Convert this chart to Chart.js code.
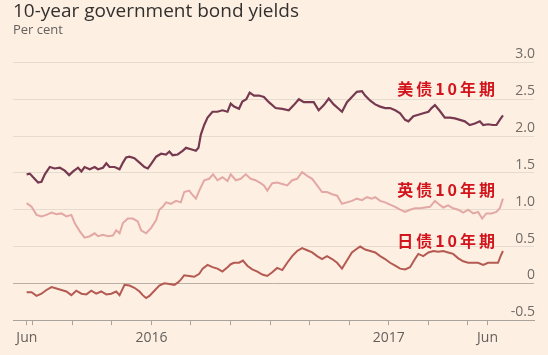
<!DOCTYPE html>
<html><head><meta charset="utf-8">
<script src="https://cdn.jsdelivr.net/npm/chart.js"></script>
<style>
html,body{margin:0;padding:0;background:#fdf0e3;}
#wrap{width:548px;height:355px;position:relative;}
</style></head>
<body><div id="wrap"><canvas id="c"></canvas></div>
<script>
// x values: months since 1 Jan 2016
const usX = [-6.31,-6.15,-5.98,-5.73,-5.56,-5.39,-5.14,-4.89,-4.63,-4.38,-4.16,-3.96,-3.71,-3.54,-3.38,-3.12,-2.87,-2.70,-2.45,-2.28,-2.12,-1.86,-1.61,-1.44,-1.28,-1.11,-0.86,-0.60,-0.35,-0.18,-0.02,0.24,0.49,0.74,0.91,1.07,1.33,1.58,1.75,2.00,2.25,2.38,2.50,2.67,2.84,3.09,3.34,3.59,3.85,4.01,4.18,4.43,4.60,4.80,4.97,5.19,5.44,5.69,5.94,6.28,6.62,6.95,7.20,7.46,7.71,7.96,8.21,8.46,8.72,8.97,9.22,9.47,9.64,9.89,10.14,10.39,10.65,10.81,11.07,11.32,11.57,11.82,12.07,12.33,12.58,12.83,13.00,13.25,13.50,13.75,14.01,14.17,14.34,14.59,14.84,15.10,15.35,15.60,15.85,16.10,16.36,16.61,16.78,17.03,17.28,17.45,17.62,17.78];
const usY = [1.48,1.49,1.44,1.37,1.38,1.48,1.58,1.56,1.57,1.53,1.47,1.52,1.57,1.52,1.58,1.55,1.58,1.55,1.57,1.63,1.58,1.58,1.55,1.64,1.71,1.72,1.70,1.64,1.58,1.56,1.62,1.72,1.76,1.75,1.79,1.74,1.75,1.80,1.84,1.82,1.80,1.84,2.02,2.15,2.25,2.33,2.33,2.35,2.33,2.44,2.40,2.37,2.47,2.50,2.59,2.55,2.55,2.53,2.46,2.38,2.37,2.35,2.42,2.50,2.46,2.46,2.46,2.35,2.42,2.51,2.43,2.37,2.33,2.46,2.53,2.60,2.61,2.55,2.48,2.43,2.40,2.38,2.38,2.35,2.31,2.22,2.20,2.27,2.29,2.31,2.33,2.38,2.42,2.34,2.25,2.25,2.24,2.22,2.20,2.15,2.17,2.20,2.15,2.16,2.15,2.15,2.22,2.28];

const ukX = [-6.31,-6.06,-5.81,-5.56,-5.31,-5.05,-4.80,-4.55,-4.30,-4.05,-3.88,-3.63,-3.38,-3.12,-2.87,-2.70,-2.45,-2.20,-1.95,-1.78,-1.61,-1.44,-1.19,-0.94,-0.69,-0.52,-0.27,-0.02,0.24,0.40,0.57,0.74,0.99,1.24,1.49,1.66,1.91,2.08,2.25,2.42,2.67,2.92,3.12,3.34,3.59,3.85,4.01,4.27,4.52,4.77,5.02,5.27,5.52,5.69,5.86,6.11,6.36,6.62,6.87,7.12,7.37,7.62,7.88,8.13,8.38,8.63,8.88,9.14,9.39,9.64,9.89,10.14,10.39,10.65,10.90,11.15,11.32,11.57,11.82,12.07,12.33,12.58,12.83,13.08,13.33,13.59,13.84,14.09,14.34,14.51,14.76,15.01,15.26,15.52,15.77,16.02,16.27,16.52,16.73,16.94,17.20,17.45,17.62,17.78];
const ukY = [1.09,1.04,0.93,0.91,0.93,0.96,0.94,0.95,0.91,0.93,0.82,0.71,0.62,0.64,0.68,0.64,0.66,0.64,0.65,0.72,0.68,0.82,0.88,0.88,0.84,0.72,0.68,0.75,0.86,1.00,1.04,1.10,1.08,1.12,1.10,1.24,1.26,1.20,1.15,1.26,1.40,1.42,1.48,1.40,1.44,1.39,1.48,1.40,1.42,1.48,1.42,1.40,1.36,1.33,1.26,1.36,1.37,1.35,1.33,1.40,1.42,1.51,1.46,1.42,1.33,1.24,1.24,1.21,1.19,1.08,1.10,1.12,1.15,1.13,1.17,1.15,1.17,1.12,1.10,1.07,1.04,1.00,0.97,1.00,1.02,1.02,1.03,1.04,1.12,1.08,1.03,1.06,1.02,1.00,0.96,1.00,0.95,0.97,0.88,0.95,0.95,0.97,1.02,1.15];

const jpX = [-6.31,-6.06,-5.81,-5.56,-5.31,-5.05,-4.80,-4.55,-4.30,-4.05,-3.80,-3.54,-3.29,-3.04,-2.79,-2.54,-2.28,-2.03,-1.78,-1.61,-1.36,-1.11,-0.86,-0.60,-0.44,-0.27,-0.10,0.15,0.40,0.65,0.91,1.16,1.33,1.49,1.66,1.91,2.17,2.42,2.59,2.84,3.09,3.34,3.59,3.85,4.01,4.18,4.43,4.63,4.85,5.10,5.36,5.61,5.86,6.11,6.36,6.62,6.87,7.12,7.37,7.62,7.88,8.13,8.38,8.63,8.88,9.14,9.39,9.64,9.89,10.14,10.39,10.56,10.81,11.07,11.32,11.57,11.82,12.07,12.33,12.58,12.83,13.08,13.33,13.50,13.75,14.01,14.26,14.51,14.76,15.01,15.26,15.52,15.77,16.02,16.27,16.52,16.78,17.03,17.28,17.53,17.66,17.78];
const jpY = [-0.12,-0.12,-0.17,-0.14,-0.09,-0.05,-0.07,-0.09,-0.11,-0.16,-0.10,-0.14,-0.15,-0.10,-0.14,-0.11,-0.15,-0.14,-0.11,-0.16,-0.02,-0.03,-0.06,-0.11,-0.16,-0.20,-0.17,-0.10,-0.03,0.00,-0.01,-0.02,0.01,0.05,0.11,0.10,0.09,0.13,0.20,0.25,0.22,0.20,0.16,0.22,0.26,0.28,0.28,0.31,0.24,0.19,0.16,0.12,0.10,0.15,0.21,0.18,0.28,0.37,0.44,0.48,0.45,0.42,0.37,0.33,0.37,0.33,0.28,0.20,0.31,0.42,0.47,0.50,0.46,0.44,0.42,0.37,0.33,0.28,0.24,0.20,0.19,0.22,0.33,0.40,0.37,0.42,0.44,0.43,0.44,0.42,0.40,0.34,0.30,0.28,0.28,0.28,0.25,0.28,0.28,0.28,0.37,0.44];

const seriesNames = ['美债10年期','英债10年期','日债10年期'];
const labelAnchorX = [17.38, 17.38, 17.38];
const labelAnchorY = [2.64, 1.27, 0.57];

const xTickValues = [-6.3,-6,-4,-2,0,2,4,6,8,10,12,14,16,17];
const xTickLabels = {'-6.3':'Jun','0':'2016','12':'2017','17':'Jun'};

const titleText = '10-year government bond yields';
const subtitleText = 'Per cent';

const toPts = (xs, ys) => xs.map((x, i) => ({x, y: ys[i]}));

const annot = {
  id: 'annot',
  afterDatasetsDraw(chart) {
    const {ctx, scales:{x, y}} = chart;
    ctx.save();
    ctx.font = 'bold 16px "Noto Sans CJK SC"';
    ctx.fillStyle = '#d2141c';
    ctx.textAlign = 'right';
    ctx.textBaseline = 'middle';
    try { ctx.letterSpacing = '3px'; } catch(e) {}
    seriesNames.forEach((t, i) => {
      ctx.fillText(t, x.getPixelForValue(labelAnchorX[i]) + 3, y.getPixelForValue(labelAnchorY[i]));
    });
    ctx.restore();
  }
};

new Chart(document.getElementById('c'), {
  type: 'line',
  data: {
    datasets: [
      {label: seriesNames[0], data: toPts(usX, usY), borderColor: '#76394f', borderWidth: 2.2},
      {label: seriesNames[1], data: toPts(ukX, ukY), borderColor: '#e3a8a4', borderWidth: 2},
      {label: seriesNames[2], data: toPts(jpX, jpY), borderColor: '#b45a52', borderWidth: 2}
    ]
  },
  options: {
    responsive: true,
    maintainAspectRatio: false,
    devicePixelRatio: 1,
    animation: false,
    elements: {point: {radius: 0}, line: {tension: 0}},
    layout: {padding: {left: 13, right: 12, top: 0, bottom: 5}},
    plugins: {
      legend: {display: false},
      tooltip: {enabled: false},
      title: {display: true, text: titleText, align: 'start', color: '#33302e',
        font: {family: '"Open Sans"', size: 19, weight: 'normal'}, padding: {top: 0, bottom: 0}},
      subtitle: {display: true, text: subtitleText, align: 'start', color: '#66605c',
        font: {family: '"Open Sans"', size: 13, weight: 'normal'}, padding: {top: 0, bottom: 24}}
    },
    scales: {
      x: {
        type: 'linear', min: -7, max: 19.35,
        afterBuildTicks: (axis) => { axis.ticks = xTickValues.map(v => ({value: v})); },
        grid: {display: true, drawOnChartArea: false, drawTicks: true, tickLength: 5, color: '#aaa39c'},
        border: {display: true, color: '#aaa39c', width: 1},
        ticks: {autoSkip: false, maxRotation: 0, padding: 4, color: '#66605c',
          font: {family: '"Open Sans"', size: 14},
          callback: (v) => xTickLabels[String(v)] || ''}
      },
      y: {
        position: 'right', min: -0.5, max: 3,
        grid: {drawTicks: false, color: (c) => c.tick.value === 0 ? '#b9afa6' : (c.tick.value === -0.5 ? 'rgba(0,0,0,0)' : '#e6dbcf')},
        border: {display: false},
        ticks: {stepSize: 0.5, mirror: true, padding: 1, labelOffset: -8, color: '#726b66',
          font: {family: '"Open Sans"', size: 14},
          callback: (v) => v === 0 ? '0' : v.toFixed(1)}
      }
    }
  },
  plugins: [annot]
});
</script>
</body></html>
